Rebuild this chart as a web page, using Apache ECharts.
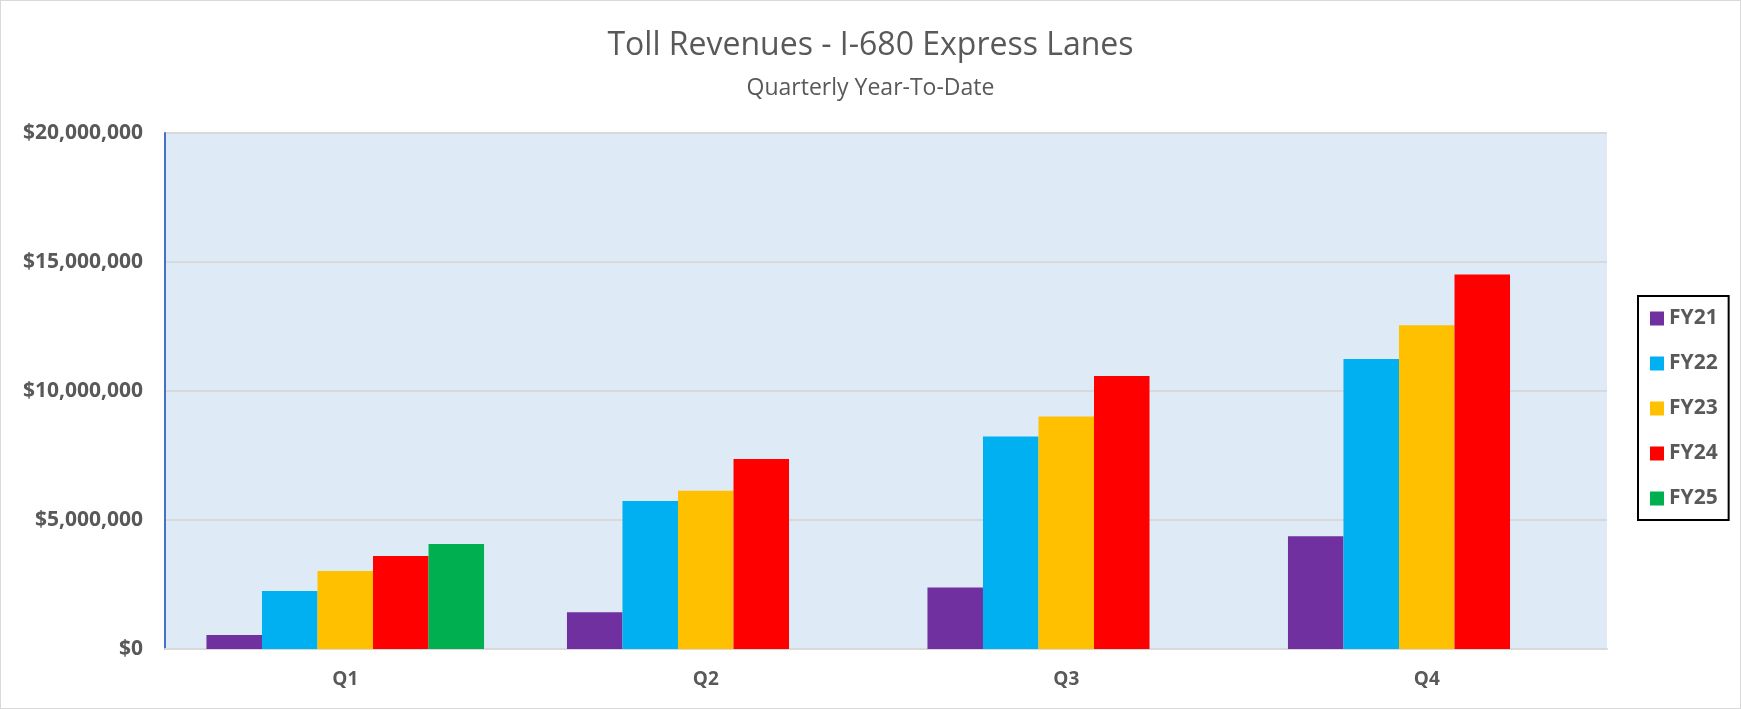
<!DOCTYPE html>
<html>
<head>
<meta charset="utf-8">
<title>Toll Revenues - I-680 Express Lanes</title>
<script src="https://cdn.jsdelivr.net/npm/echarts@6/dist/echarts.min.js"></script>
<style>
  html, body { margin: 0; padding: 0; background: #fff; }
  #chart { width: 1741px; height: 709px; box-sizing: border-box; border: 1px solid #d9d9d9; }
</style>
</head>
<body>
<div id="chart"></div>
<script>
'use strict';
// quarters on the x axis
var quarters = ['Q1', 'Q2', 'Q3', 'Q4'];
// fiscal years (one series each)
var years = ['FY21', 'FY22', 'FY23', 'FY24', 'FY25'];
// year-to-date toll revenue, dollars
var fy21 = [540000, 1420000, 2380000, 4370000];
var fy22 = [2250000, 5740000, 8240000, 11240000];
var fy23 = [3020000, 6130000, 9010000, 12550000];
var fy24 = [3600000, 7360000, 10580000, 14520000];
var fy25 = [4070000, null, null, null];
var yTicks = [0, 5000000, 10000000, 15000000, 20000000];

var colors = ['#7030a0', '#00b0f0', '#ffc000', '#ff0000', '#00b050'];
var values = [fy21, fy22, fy23, fy24, fy25];

function money(v){
  return '$' + String(v).replace(/\B(?=(\d{3})+(?!\d))/g, ',');
}

var series = [];
for (var i = 0; i < years.length; i++) {
  series.push({
    name: years[i],
    type: 'bar',
    data: values[i],
    barGap: 0,
    barCategoryGap: '23%',
    itemStyle: { color: colors[i] }
  });
}

var myChart = echarts.init(document.getElementById('chart'));
var option = {
  animation: false,
  textStyle: { fontFamily: 'Open Sans' },
  title: {
    text: 'Toll Revenues - I-680 Express Lanes',
    subtext: 'Quarterly Year-To-Date',
    left: 'center',
    top: 24,
    itemGap: 15,
    textStyle: { fontFamily: 'Open Sans', fontSize: 32, fontWeight: 'normal', color: '#595959' },
    subtextStyle: { fontFamily: 'Open Sans', fontSize: 23, color: '#595959' }
  },
  legend: {
    orient: 'vertical',
    left: 1637,
    top: 295,
    padding: [12, 11, 11, 12],
    itemWidth: 14,
    itemHeight: 14,
    itemGap: 24,
    icon: 'rect',
    borderColor: '#000',
    borderWidth: 2,
    data: years,
    textStyle: { fontFamily: 'Open Sans', fontSize: 21, fontWeight: 'bold', color: '#595959' }
  },
  grid: {
    left: 164, right: 133, top: 132, bottom: 59,
    show: true,
    backgroundColor: '#deeaf6',
    borderWidth: 0
  },
  xAxis: {
    type: 'category',
    data: quarters,
    axisTick: { show: false },
    axisLine: { lineStyle: { color: '#d9d9d9', width: 2 } },
    axisLabel: { margin: 21, fontFamily: 'Open Sans', fontSize: 19, fontWeight: 'bold', color: '#595959' }
  },
  yAxis: {
    type: 'value',
    min: yTicks[0],
    max: yTicks[yTicks.length - 1],
    interval: yTicks[1] - yTicks[0],
    axisLine: { show: true, lineStyle: { color: '#4472c4', width: 2 } },
    axisTick: { show: false },
    splitLine: { lineStyle: { color: '#d9d9d9', width: 2 } },
    axisLabel: {
      margin: 22,
      fontFamily: 'Open Sans', fontSize: 21, fontWeight: 'bold', color: '#595959',
      formatter: function (v) { return money(v); }
    }
  },
  series: series
};
myChart.setOption(option);
</script>
</body>
</html>
